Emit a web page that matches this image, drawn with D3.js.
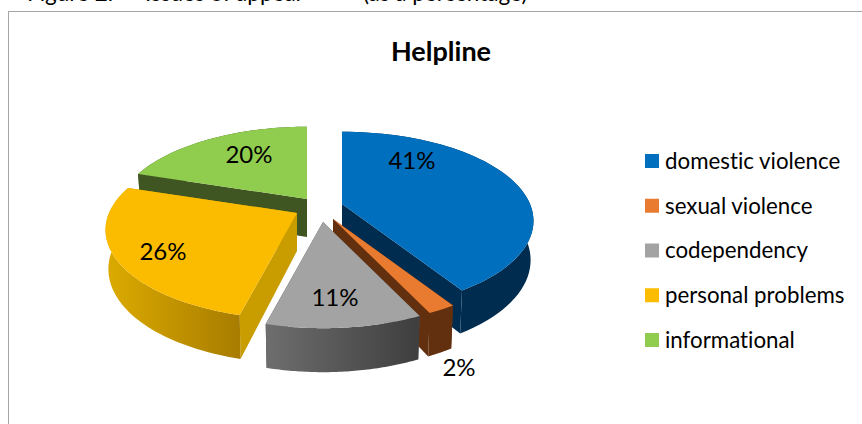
<!DOCTYPE html>
<html>
<head>
<meta charset="utf-8">
<script src="https://cdn.jsdelivr.net/npm/d3@7"></script>
<style>
  html, body { margin: 0; padding: 0; background: #fff; }
  svg { display: block; }
  text { font-family: Lato, "Open Sans", sans-serif; fill: #000; font-variant-ligatures: none; }
</style>
</head>
<body>
<svg id="chart" width="862" height="424"></svg>
<script>
const categories = ["domestic violence", "sexual violence", "codependency", "personal problems", "informational"];
const percents = [41, 2, 11, 26, 20];

const topColors = ["#006fbe", "#e97b30", "#a3a3a3", "#fbbc00", "#90cd4e"];
const edgeColors = ["#002c4f", "#63300f", "#505050", "#c99d00", "#3f5622"];
const wallLeft = ["#002c4f", "#63300f", "#6e6e6e", "#dcab00", "#3f5622"];
const wallRight = ["#002c4f", "#63300f", "#3e3e3e", "#a87c00", "#3f5622"];

// painter order, back slices first
const drawOrder = [4, 0, 3, 1, 2];
// where each exploded slice has its tip, and the hand placed data labels
const sliceTips = [[342, 204], [333, 219], [323, 222], [297, 213], [307, 199]];
const labelPos = [[412, 161], [459, 368], [335, 298], [163, 252], [249, 155]];

const radiusX = 188, radiusY = 86, persp = 0.19;
const depth = 38;

const svg = d3.select("#chart");
const defs = svg.append("defs");

// caption of the source page, mostly cut off by the top edge
const caption = svg.append("text").attr("y", 1).attr("font-size", 22.5);
caption.append("tspan").attr("x", 27).text("Figure 2.");
caption.append("tspan").attr("x", 145).text("Issues of appeal");
caption.append("tspan").attr("x", 363).text("(as a percentage)");

svg.append("rect")
    .attr("x", 8.5).attr("y", 11.5)
    .attr("width", 870).attr("height", 430)
    .attr("fill", "#fff")
    .attr("stroke", "#a6a6a6");

svg.append("text")
    .attr("x", 441).attr("y", 61)
    .attr("text-anchor", "middle")
    .attr("font-size", 27)
    .attr("font-weight", 700)
    .text("Helpline");

const pie = d3.pie().sort(null).value(d => d);
const arcs = pie(percents);

function project(a, r, z, ox, oy) {
    // a: clockwise from 12 o'clock, r: 0..1, z: 0 top face, 1 bottom face
    const X = Math.sin(a) * r;
    const Y = -Math.cos(a) * r;
    const s = 1 / (1 - persp * Y);
    const narrow = 1 - 0.015 * z;
    return [
        ox + X * radiusX * s * narrow,
        oy + Y * radiusY * s + z * (depth + 6 * Y)
    ];
}

const line = d3.line();

drawOrder.forEach(i => {
    const d = arcs[i];
    const [ox, oy] = sliceTips[i];
    const angles = d3.range(0, 61).map(k => d.startAngle + (d.endAngle - d.startAngle) * k / 60);
    const g = svg.append("g").attr("class", "slice");

    const topRim = angles.map(a => project(a, 1, 0, ox, oy));
    const lowRim = angles.map(a => project(a, 1, 1, ox, oy));
    const apex = project(0, 0, 0, ox, oy);
    const apexLow = project(0, 0, 1, ox, oy);

    [[topRim[0], lowRim[0]], [topRim[60], lowRim[60]]].forEach(([t, b]) => {
        g.append("path")
            .attr("d", line([apex, t, b, apexLow]) + "Z")
            .attr("fill", edgeColors[i]);
    });

    const gradId = "wall" + i;
    const xs = topRim.map(p => p[0]);
    const grad = defs.append("linearGradient")
        .attr("id", gradId)
        .attr("gradientUnits", "userSpaceOnUse")
        .attr("x1", d3.min(xs)).attr("x2", d3.max(xs))
        .attr("y1", 0).attr("y2", 0);
    grad.append("stop").attr("offset", 0).attr("stop-color", wallLeft[i]);
    grad.append("stop").attr("offset", 1).attr("stop-color", wallRight[i]);

    g.append("path")
        .attr("d", line(topRim.concat(lowRim.slice().reverse())) + "Z")
        .attr("fill", `url(#${gradId})`);

    g.append("path")
        .attr("d", line([apex].concat(topRim)) + "Z")
        .attr("fill", topColors[i]);
});

svg.selectAll(".pct")
    .data(percents)
    .join("text")
    .attr("class", "pct")
    .attr("x", (d, i) => labelPos[i][0])
    .attr("y", (d, i) => labelPos[i][1])
    .attr("dy", "0.35em")
    .attr("text-anchor", "middle")
    .attr("font-size", 24)
    .text(d => d + "%");

const legendY = d3.scalePoint().domain(categories).range([161, 340]);

const legend = svg.selectAll(".legend")
    .data(categories)
    .join("g")
    .attr("class", "legend")
    .attr("transform", d => `translate(645, ${legendY(d)})`);

legend.append("rect")
    .attr("x", 0).attr("y", -7)
    .attr("width", 14).attr("height", 14)
    .attr("fill", (d, i) => topColors[i]);

legend.append("text")
    .attr("x", 20)
    .attr("dy", "0.35em")
    .attr("font-size", 22.3)
    .text(d => d);
</script>
</body>
</html>
